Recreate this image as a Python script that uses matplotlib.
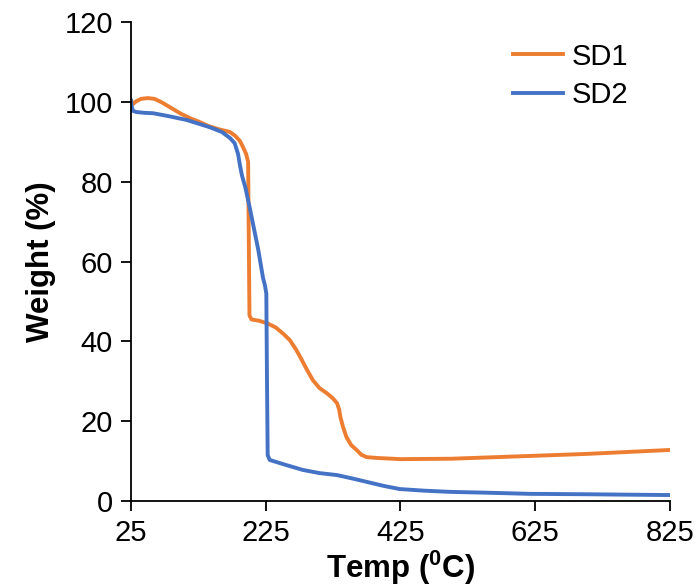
import matplotlib.pyplot as plt

plt.rcParams['font.family'] = ['Liberation Sans', 'DejaVu Sans']
plt.rcParams['mathtext.fontset'] = 'custom'
plt.rcParams['mathtext.rm'] = 'Liberation Sans:bold'
plt.rcParams['mathtext.bf'] = 'Liberation Sans:bold'

# ---------------------------------------
# data
# ---------------------------------------
sd1_temp = [25, 28, 33, 40, 50, 60, 70, 85, 100, 115, 127, 140, 155, 172, 180,
            187, 192, 196, 199, 200, 201, 204, 215, 228, 240, 252, 261, 270,
            276, 286, 295, 305, 316, 325, 331, 334, 336, 340, 345, 352, 360,
            367, 375, 390, 425, 500, 617, 700, 825]
sd1_wt = [100.5, 99.5, 100.2, 100.8, 101, 100.8, 100, 98.5, 97, 95.8, 95, 94,
          93.2, 92.5, 91.5, 90.2, 88.5, 87, 85, 65, 46.5, 45.5, 45.2, 44.5,
          43.5, 41.8, 40.3, 38, 36.2, 33, 30.3, 28.3, 27, 25.7, 24.5, 23, 21,
          18.5, 16, 14, 12.8, 11.6, 11, 10.8, 10.5, 10.6, 11.3, 11.8, 12.8]

sd2_temp = [25, 26, 28, 33, 45, 58, 80, 108, 125, 142, 160, 172, 179, 184,
            187, 190, 195, 202, 208, 214, 221, 224, 226, 227, 228, 231, 250,
            280, 305, 331, 355, 380, 400, 424, 460, 498, 550, 617, 700, 760, 825]
sd2_wt = [100.3, 99, 97.8, 97.5, 97.3, 97.2, 96.5, 95.5, 94.6, 93.7, 92.5, 91,
          89.7, 87, 84, 81.5, 78.5, 73, 68, 63, 56, 54, 52, 30, 11.5, 10.3,
          9.3, 7.8, 7, 6.5, 5.6, 4.6, 3.8, 3, 2.6, 2.3, 2.1, 1.8, 1.7, 1.6, 1.5]

x_ticks = [25, 225, 425, 625, 825]
y_ticks = [0, 20, 40, 60, 80, 100, 120]

# ---------------------------------------
# plot
# ---------------------------------------
fig = plt.figure(figsize=(7, 5.86), dpi=100)
ax = fig.add_axes([0.187, 0.145, 0.770, 0.817])

ax.plot(sd1_temp, sd1_wt, color='#ED7D31', lw=2.8, label='SD1')
ax.plot(sd2_temp, sd2_wt, color='#4472C4', lw=2.8, label='SD2')

ax.set_xlim(25, 825)
ax.set_ylim(0, 120)
ax.set_xticks(x_ticks)
ax.set_yticks(y_ticks)

for s in ['top', 'right']:
    ax.spines[s].set_visible(False)
for s in ['left', 'bottom']:
    ax.spines[s].set_linewidth(1.3)

ax.tick_params(direction='out', length=7, width=1.3, labelsize=21, pad=6)

ax.set_xlabel(r'Temp ($^{0}$C)', fontsize=22.5, fontweight='bold', labelpad=1)
ax.set_ylabel('Weight (%)', fontsize=22.5, fontweight='bold', labelpad=6)

ax.legend(loc='upper right', frameon=False, fontsize=21, handlelength=1.7,
          handletextpad=0.3, borderaxespad=0.3, bbox_to_anchor=(0.96, 1.0),
          labelspacing=0.35)

plt.savefig('out.png', dpi=100)
